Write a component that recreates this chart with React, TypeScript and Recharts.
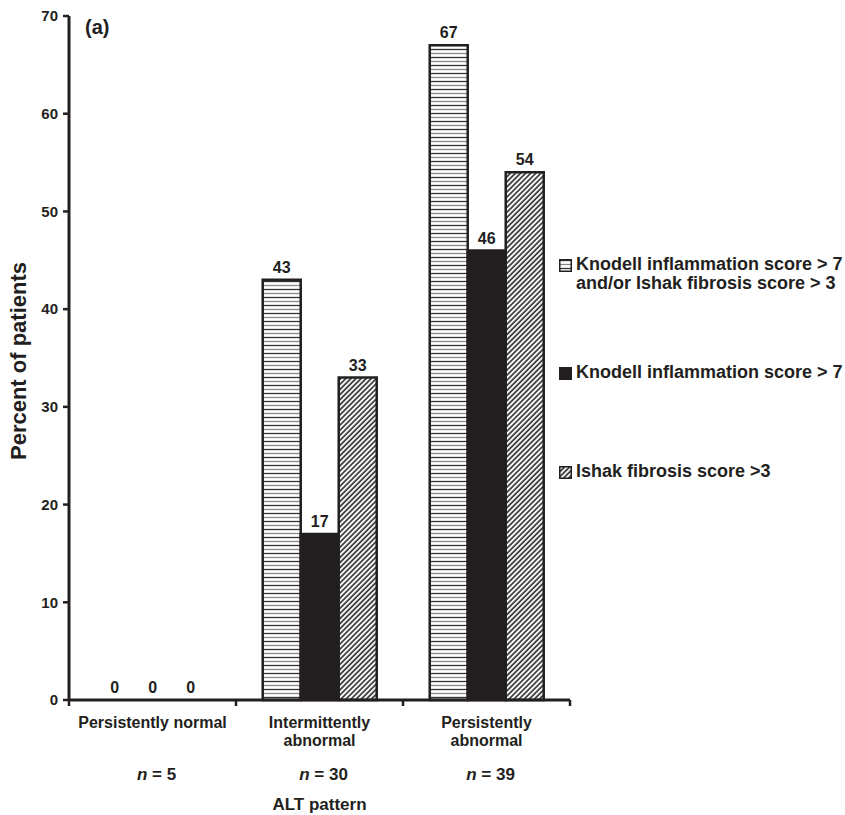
import { BarChart, Bar, XAxis, YAxis, Legend, LabelList, Label, Cell } from "recharts";

const categories = ["Persistently normal", "Intermittently abnormal", "Persistently abnormal"];
const categoryLines = [["Persistently normal"], ["Intermittently", "abnormal"], ["Persistently", "abnormal"]];
const groupSizes = [5, 30, 39];
const combinedScore = [0, 43, 67];
const inflammationScore = [0, 17, 46];
const fibrosisScore = [0, 33, 54];
const yTicks = [0, 10, 20, 30, 40, 50, 60, 70];
const seriesNames = [
  "Knodell inflammation score > 7\nand/or Ishak fibrosis score > 3",
  "Knodell inflammation score > 7",
  "Ishak fibrosis score >3",
];

const data = categories.map((name, i) => ({
  name,
  combined: combinedScore[i],
  inflammation: inflammationScore[i],
  fibrosis: fibrosisScore[i],
}));

const ink = "#231f20";
const font = "'Liberation Sans', Arial, sans-serif";
const fills = ["url(#hLines)", ink, "url(#hatch)"];

const CategoryTick = (props: any) => {
  const { x, y, index, width } = props;
  const half = width / categories.length / 2;
  const lines = categoryLines[index];
  return (
    <g>
      <line x1={x - half} x2={x - half} y1={y} y2={y + 6} stroke={ink} strokeWidth={2.5} />
      {index === categories.length - 1 && (
        <line x1={x + half} x2={x + half} y1={y} y2={y + 6} stroke={ink} strokeWidth={2.5} />
      )}
      <text textAnchor="middle" fill={ink} fontSize={16} fontWeight={700} fontFamily={font}>
        {lines.map((l, k) => (
          <tspan key={k} x={x} y={y + 28 + k * 18}>
            {l}
          </tspan>
        ))}
      </text>
      <text x={x + 4} y={y + 80} textAnchor="middle" fill={ink} fontSize={17} fontWeight={700} fontFamily={font}>
        <tspan fontStyle="italic">n</tspan> = {groupSizes[index]}
      </text>
      {index === 1 && (
        <text x={x} y={y + 110} textAnchor="middle" fill={ink} fontSize={17} fontWeight={700} fontFamily={font}>
          ALT pattern
        </text>
      )}
    </g>
  );
};

const YTitle = (props: any) => {
  const vb = props.viewBox;
  const cx = vb.x + 9;
  const cy = vb.y + vb.height / 2 + 3;
  return (
    <text
      x={cx}
      y={cy}
      transform={`rotate(-90, ${cx}, ${cy})`}
      textAnchor="middle"
      dominantBaseline="central"
      fill={ink}
      fontSize={22}
      fontWeight={700}
      fontFamily={font}
    >
      Percent of patients
    </text>
  );
};

const ValueLabel = (props: any) => {
  const { x, y, width, value } = props;
  return (
    <text x={x + width / 2} y={y - 7} textAnchor="middle" fill={ink} fontSize={16} fontWeight={700} fontFamily={font}>
      {value}
    </text>
  );
};

const LegendSwatch = ({ fill }: { fill: string }) => (
  <svg width={13} height={13} style={{ flex: "none", marginTop: 4 }}>
    <rect x={0.75} y={0.75} width={11.5} height={11.5} fill={fill} stroke={ink} strokeWidth={1.5} />
  </svg>
);

const renderLegend = () => (
  <div style={{ fontFamily: font, fontWeight: 700, fontSize: 18, color: ink }}>
    {seriesNames.map((name, i) => (
      <div key={i} style={{ height: 99, display: "flex", alignItems: "center" }}>
        <div style={{ display: "flex", alignItems: "flex-start" }}>
          <LegendSwatch fill={fills[i]} />
          <div style={{ marginLeft: 4, whiteSpace: "pre-line", lineHeight: "19px" }}>{name}</div>
        </div>
      </div>
    ))}
  </div>
);

const seriesKeys = ["combined", "inflammation", "fibrosis"] as const;

export default function App() {
  return (
    <div style={{ position: "absolute", left: 0, top: 0, background: "#fff" }}>
      <BarChart
        width={845}
        height={815}
        data={data}
        margin={{ top: 16, right: 275, left: 9, bottom: 85 }}
        barCategoryGap="16%"
        barGap={0}
      >
        <defs>
          <pattern id="hLines" patternUnits="userSpaceOnUse" width={8} height={8}>
            <rect width={8} height={8} fill="#fff" />
            <line x1={0} x2={8} y1={1.5} y2={1.5} stroke="#333" strokeWidth={1.3} />
            <line x1={0} x2={8} y1={5.5} y2={5.5} stroke="#8a8a8a" strokeWidth={1.3} />
          </pattern>
          <pattern id="hatch" patternUnits="userSpaceOnUse" width={3.6} height={3.6} patternTransform="rotate(45)">
            <rect width={3.6} height={3.6} fill="#fff" />
            <line x1={1} x2={1} y1={0} y2={3.6} stroke="#333" strokeWidth={1.7} />
          </pattern>
        </defs>
        <text x={85} y={34} fill={ink} fontSize={20} fontWeight={700} fontFamily={font}>
          (a)
        </text>
        <XAxis
          dataKey="name"
          interval={0}
          tickLine={false}
          tickSize={0}
          tickMargin={0}
          axisLine={{ stroke: ink, strokeWidth: 3 }}
          tick={<CategoryTick />}
        />
        <YAxis
          width={60}
          domain={[0, 70]}
          ticks={yTicks}
          tickSize={6}
          tickMargin={5}
          axisLine={{ stroke: ink, strokeWidth: 3 }}
          tickLine={{ stroke: ink, strokeWidth: 2.5 }}
          tick={{ fill: ink, fontSize: 15, fontWeight: 700, fontFamily: font }}
        >
          <Label content={<YTitle />} />
        </YAxis>
        <Legend
          layout="horizontal"
          verticalAlign="middle"
          align="center"
          wrapperStyle={{ left: 559, top: 224, width: 286 }}
          content={renderLegend}
        />
        {seriesKeys.map((key, i) => (
          <Bar
            key={key}
            dataKey={key}
            name={seriesNames[i]}
            fill={fills[i]}
            stroke={ink}
            strokeWidth={2.5}
            minPointSize={0.5}
            isAnimationActive={false}
          >
            {data.map((d, j) => (
              <Cell key={j} stroke={d[key] === 0 ? "none" : ink} fill={d[key] === 0 ? "none" : fills[i]} />
            ))}
            <LabelList dataKey={key} content={<ValueLabel />} />
          </Bar>
        ))}
      </BarChart>
    </div>
  );
}
